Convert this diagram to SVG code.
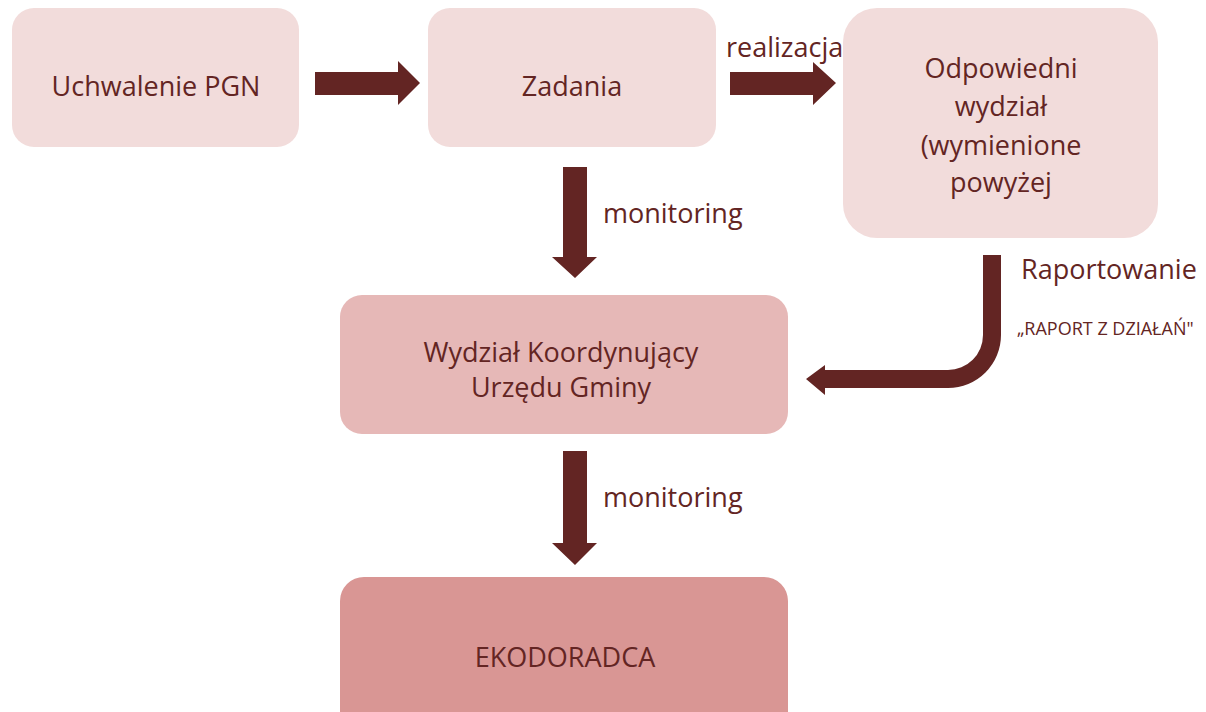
<svg xmlns="http://www.w3.org/2000/svg" width="1206" height="712" viewBox="0 0 1206 712">
<style>
.t{font-family:"Open Sans","Noto Sans",sans-serif;font-size:27px;fill:#632523;text-anchor:middle}
.l{font-family:"Open Sans","Noto Sans",sans-serif;font-size:27px;fill:#632523}
.s{font-family:"Open Sans","Noto Sans",sans-serif;font-size:18px;fill:#632523}
.a{fill:#632523}
</style>
<rect width="1206" height="712" fill="#ffffff"/>
<g id="uchwalenie"><rect x="12" y="8" width="287" height="139" rx="22" fill="#f2dcdb"/><text class="t" x="156" y="96">Uchwalenie PGN</text></g>
<g id="zadania"><rect x="428" y="8" width="288" height="139" rx="22" fill="#f2dcdb"/><text class="t" x="572" y="96">Zadania</text></g>
<g id="odpowiedni"><rect x="843" y="8" width="315" height="230" rx="34" fill="#f2dcdb"/>
<text class="t" x="1001" y="78">Odpowiedni</text><text class="t" x="1001" y="116">wydział</text><text class="t" x="1001" y="155">(wymienione</text><text class="t" x="1001" y="192">powyżej</text></g>
<g id="koordynujacy"><rect x="340" y="295" width="448" height="139" rx="22" fill="#e6b8b7"/>
<text class="t" x="561" y="362">Wydział Koordynujący</text><text class="t" x="561" y="397">Urzędu Gminy</text></g>
<g id="ekodoradca"><rect x="340" y="577" width="448" height="160" rx="24" fill="#d99694"/><text class="t" x="565" y="667">EKODORADCA</text></g>
<g id="connectors">
<polygon class="a" points="315,72 398,72 398,61 420,83 398,105 398,95 315,95"/>
<polygon class="a" points="730,72 813,72 813,62 836,83 813,105 813,95 730,95"/>
<polygon class="a" points="563,167 587,167 587,257 597,257 575,278 552,257 563,257"/>
<polygon class="a" points="563,451 587,451 587,543 597,543 575,565 552,543 563,543"/>
<path class="a" d="M983,255 L1001,255 L1001,335 A53,53 0 0 1 948,388 L825,388 L825,395 L806,379 L825,365 L825,370 L948,370 A35,35 0 0 0 983,335 Z"/>
<text class="l" x="726" y="57">realizacja</text>
<text class="l" x="603" y="223">monitoring</text>
<text class="l" x="603" y="507">monitoring</text>
<text class="l" x="1021" y="279">Raportowanie</text>
<text class="s" x="1017" y="335">„RAPORT Z DZIAŁAŃ"</text>
</g>
</svg>
